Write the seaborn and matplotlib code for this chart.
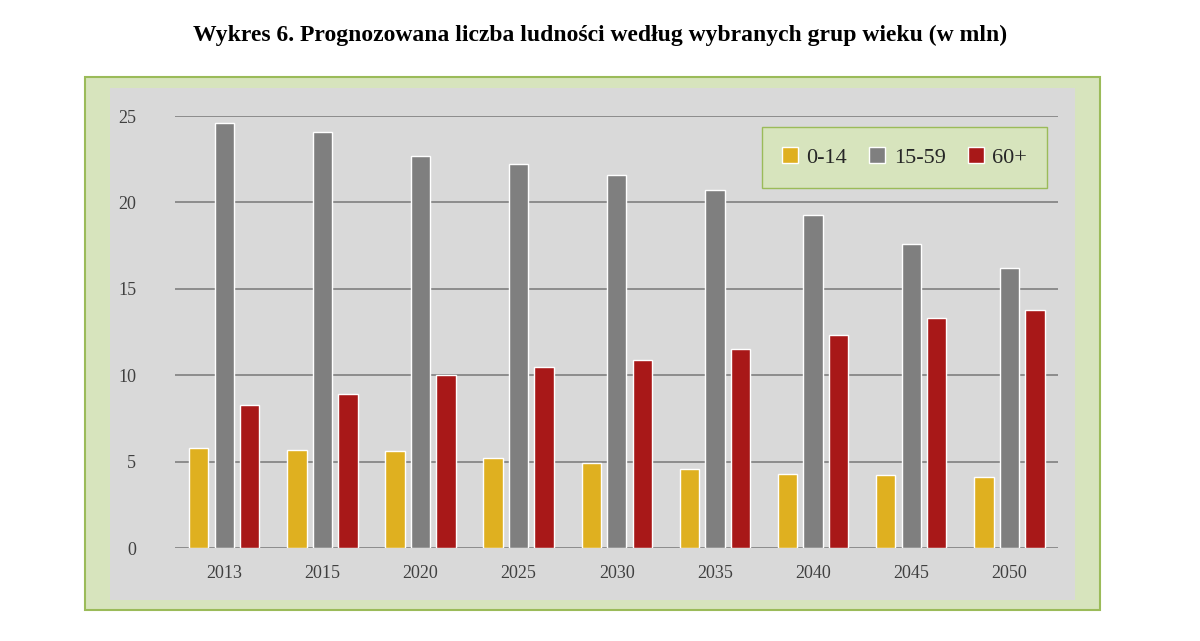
import pandas as pd
import seaborn as sns
import matplotlib.pyplot as plt
from matplotlib.patches import Rectangle

years = ["2013", "2015", "2020", "2025", "2030", "2035", "2040", "2045", "2050"]
groups = ["0-14", "15-59", "60+"]
young = [5.8, 5.7, 5.6, 5.2, 4.9, 4.6, 4.3, 4.2, 4.1]
working = [24.6, 24.1, 22.7, 22.2, 21.6, 20.7, 19.3, 17.6, 16.2]
old = [8.3, 8.9, 10.0, 10.5, 10.9, 11.5, 12.3, 13.3, 13.8]
colors = ["#ffc000", "#7f7f7f", "#c00000"]

df = pd.DataFrame({
    "Rok": years * 3,
    "Grupa": [g for g in groups for _ in years],
    "Wartosc": young + working + old,
})

sns.set_theme(style="white")
plt.rcParams["font.family"] = ["Liberation Serif", "DejaVu Serif"]

fig = plt.figure(figsize=(12, 6.41), dpi=100)
fig.patch.set_facecolor("white")

# green outer frame and grey plot background (behind the axes)
fig.patches.append(Rectangle((85 / 1200, 1 - 610 / 641), 1015 / 1200, 533 / 641,
                             transform=fig.transFigure, facecolor="#d7e4bd",
                             edgecolor="#9bbb59", lw=1.5, zorder=-2))
fig.patches.append(Rectangle((110 / 1200, 1 - 600 / 641), 965 / 1200, 512 / 641,
                             transform=fig.transFigure, facecolor="#d9d9d9",
                             edgecolor="none", zorder=-1))

fig.text(0.5, 0.945, "Wykres 6. Prognozowana liczba ludności według wybranych grup wieku (w mln)",
         ha="center", va="center", fontsize=17, fontweight="bold", color="black")

ax = fig.add_axes([0.146, 0.145, 0.736, 0.674], zorder=1)
ax.set_facecolor("none")
sns.barplot(data=df, x="Rok", y="Wartosc", hue="Grupa", palette=colors,
            width=0.78, ax=ax, zorder=3)
for p in ax.patches:
    w = p.get_width()
    p.set_x(p.get_x() + w * 0.12)
    p.set_width(w * 0.76)

ax.set_ylim(0, 25)
ax.set_yticks([0, 5, 10, 15, 20, 25])
ax.yaxis.grid(True, color="#808080", lw=1.2, zorder=0)
ax.set_axisbelow(True)
ax.set_xlabel("")
ax.set_ylabel("")
for s in ax.spines.values():
    s.set_visible(False)
ax.tick_params(axis="both", labelsize=13, colors="#404040", length=0, pad=12)
ax.tick_params(axis="y", pad=28)

leg = ax.legend(loc="upper right", ncol=3, fontsize=16, frameon=True,
                bbox_to_anchor=(1.0, 1.0), handlelength=0.7, handletextpad=0.4,
                columnspacing=1.0, borderpad=0.9)
leg.get_frame().set_facecolor("#d7e4bd")
leg.get_frame().set_edgecolor("#9bbb59")
leg.get_frame().set_alpha(1)
leg.get_frame().set_boxstyle("square", pad=0)

fig.savefig("out.png", dpi=100)
